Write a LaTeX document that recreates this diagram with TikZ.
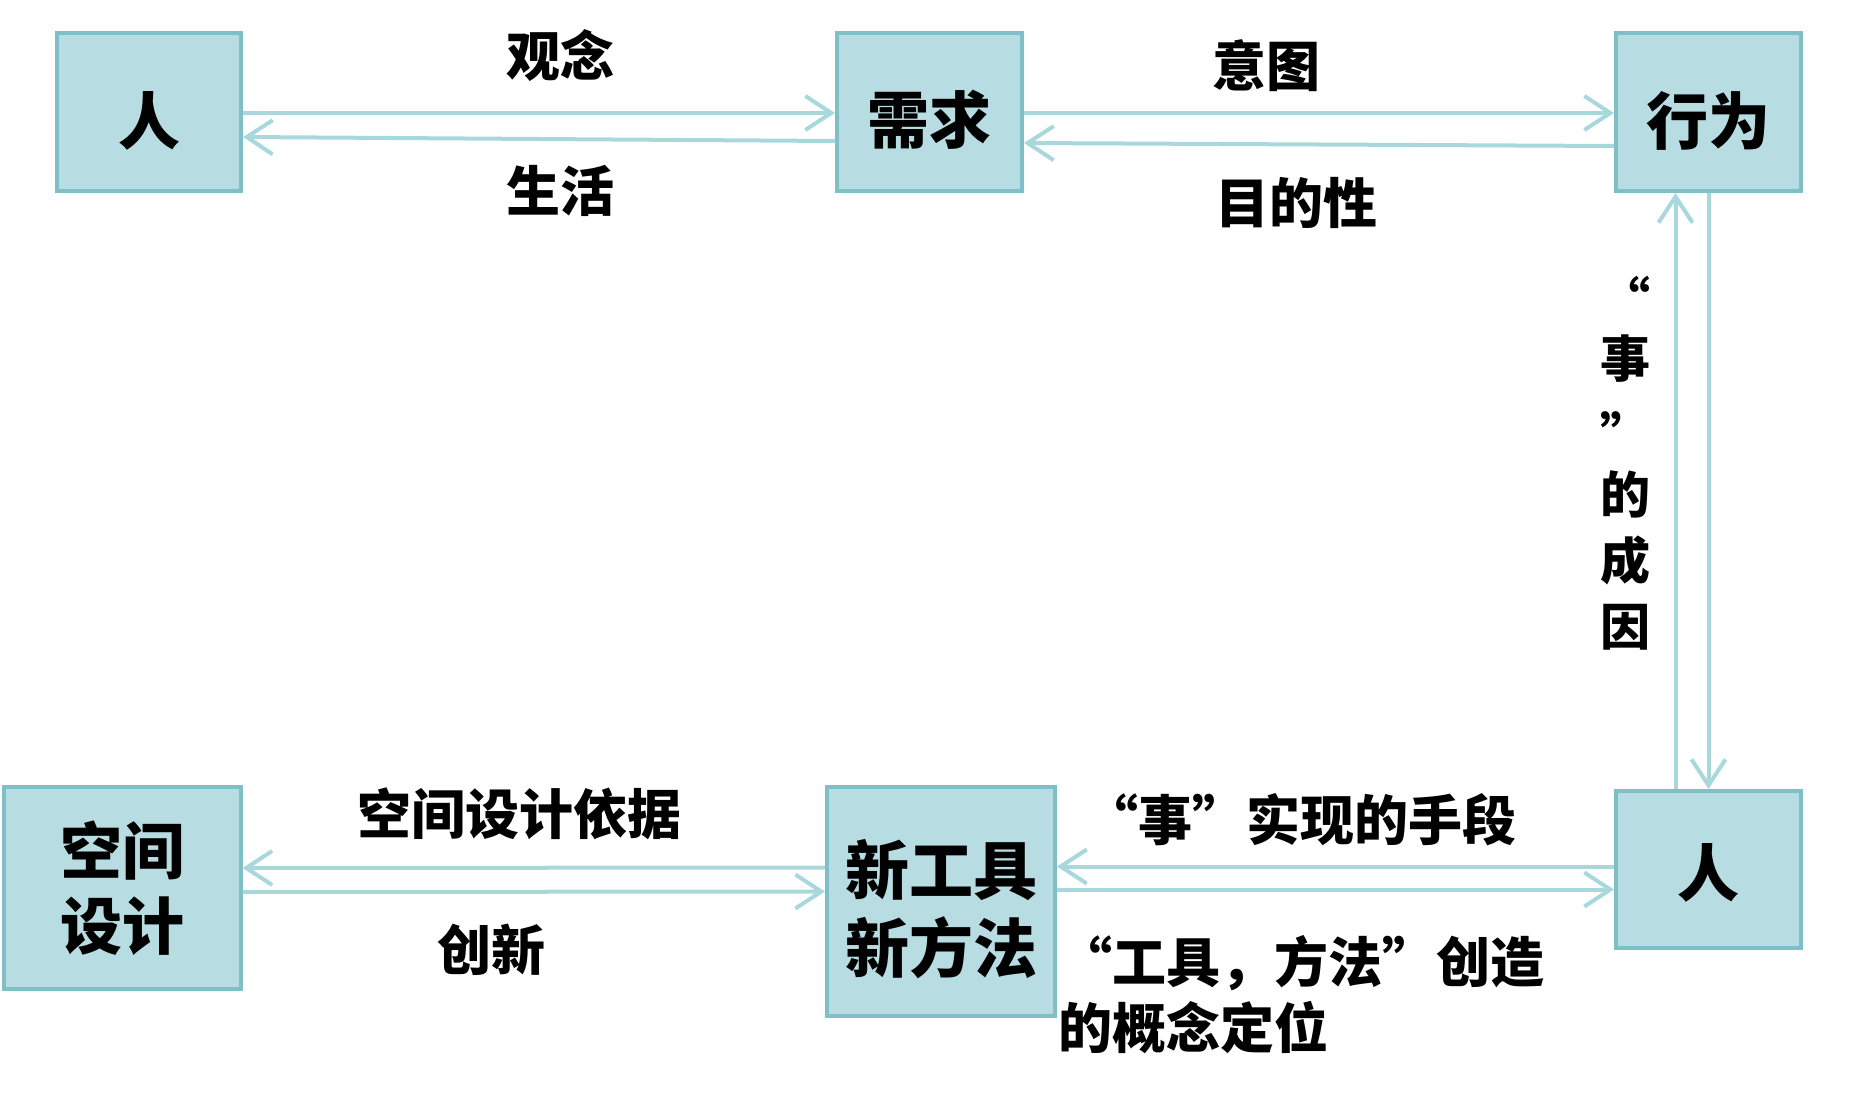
\documentclass[tikz,border=0pt]{standalone}
\usepackage{fontspec}
\newfontfamily\cjk{Noto Sans CJK SC}
\usetikzlibrary{arrows.meta,calc}
\definecolor{boxfill}{HTML}{B7DDE2}
\definecolor{boxline}{HTML}{7FBFC7}
\definecolor{arrcol}{HTML}{A8D8DC}
\newcommand{\lowtext}[2]{\raisebox{-#1}[\height][\depth]{#2}}
\begin{document}
\begin{tikzpicture}[x=1pt,y=-1pt,
  box/.style={draw=boxline, fill=boxfill, line width=4pt, inner sep=0pt, font=\cjk\bfseries\fontsize{62}{75}\selectfont, align=center},
  arr/.style={draw=arrcol, line width=4pt, -{Straight Barb[length=26pt,width=34pt]}},
  lbl/.style={font=\cjk\bfseries\fontsize{54}{66}\selectfont, inner sep=0pt, align=left}]
\useasboundingbox (0,0) rectangle (1869,1095);
% boxes
\node[box, minimum width=184pt, minimum height=158pt] (ren1) at (149,112) {\lowtext{9pt}{人}};
\node[box, minimum width=185pt, minimum height=158pt] (xq) at (929.5,112) {\lowtext{8pt}{需求}};
\node[box, minimum width=185pt, minimum height=158pt] (xw) at (1708.5,112) {\lowtext{9pt}{行为}};
\node[box, minimum width=237pt, minimum height=202pt] (kj) at (122,888) {空间\\设计};
\node[box, minimum width=228pt, minimum height=229pt, font=\cjk\bfseries\fontsize{64}{75}\selectfont] (xg) at (941,901.5)
  {\lowtext{16pt}{\begin{tabular}{@{}c@{}}新工具\\新方法\end{tabular}}};
\node[box, minimum width=185pt, minimum height=157pt] (ren2) at (1708.5,869.5) {\lowtext{3pt}{人}};
% arrows top-left
\draw[arr] ($(ren1.east)+(0,1)$) -- ($(xq.west)+(0,1)$);
\draw[arr] ($(xq.west)+(0,29)$) -- ($(ren1.east)+(0,25)$);
% arrows top-right
\draw[arr] ($(xq.east)+(0,1)$) -- ($(xw.west)+(0,1)$);
\draw[arr] ($(xw.west)+(0,34)$) -- ($(xq.east)+(0,31)$);
% vertical arrows
\draw[arr] ($(ren2.north)+(-33,0)$) -- ($(xw.south)+(-33,0)$);
\draw[arr] ($(xw.south)+(0,0)$) -- ($(ren2.north)+(0,0)$);
% bottom-left
\draw[arr] ($(xg.west)+(0,-34)$) -- ($(kj.east)+(0,-20)$);
\draw[arr] ($(kj.east)+(0,4)$) -- ($(xg.west)+(0,-10)$);
% bottom-right
\draw[arr] ($(ren2.west)+(0,-3)$) -- ($(xg.east)+(0,-35)$);
\draw[arr] ($(xg.east)+(0,-12)$) -- ($(ren2.west)+(0,20)$);
% labels
\node[lbl] (l1) at (560,56) {观念};
\node[lbl] (l2) at (560,191) {生活};
\node[lbl] (l3) at (1266,66) {意图};
\node[lbl] (l4) at (1296,203) {目的性};
\node[lbl] (l5) at (519,814) {空间设计依据};
\node[lbl] (l6) at (491,950) {创新};
\node[lbl] (l7) at (1300,820) {“事”实现的手段};
\node[lbl, anchor=north west] (l8) at (1058,935) {“工具，方法”创造\\的概念定位};
\node[font=\cjk\bfseries\fontsize{50}{66}\selectfont, align=center, inner sep=0pt, anchor=north] (l9) at (1625,276) {“\\[-8pt]事\\[11pt]”\\[-7pt]的\\成\\因};
\end{tikzpicture}
\end{document}
